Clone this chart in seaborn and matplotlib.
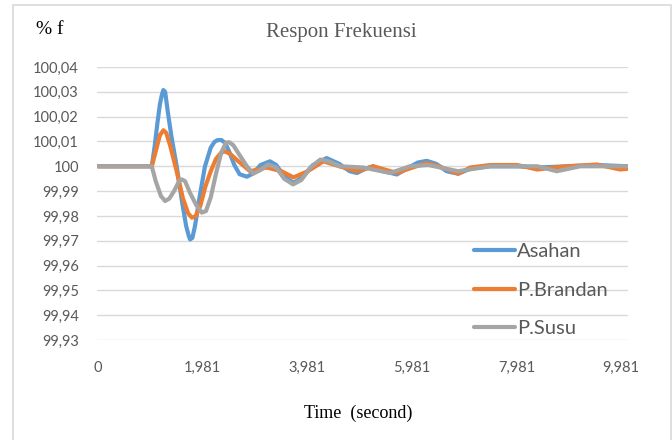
import matplotlib
matplotlib.use("Agg")
import matplotlib.pyplot as plt
import seaborn as sns
import pandas as pd
from matplotlib.patches import Rectangle

series_names = ["Asahan", "P.Brandan", "P.Susu"]
colors = ["#5B9BD5", "#ED7D31", "#A5A5A5"]

t_asahan = [0, 1.0, 1.025, 1.08, 1.13, 1.18, 1.22, 1.246, 1.28, 1.33, 1.40, 1.50, 1.60, 1.68,
            1.73, 1.756, 1.80, 1.85, 1.94, 2.04, 2.15, 2.22, 2.277, 2.35, 2.42, 2.50, 2.60,
            2.70, 2.84, 2.95, 3.10, 3.28, 3.40, 3.55, 3.73, 3.90, 4.10, 4.36, 4.60, 4.80,
            4.94, 5.10, 5.25, 5.45, 5.70, 5.95, 6.10, 6.27, 6.45, 6.65, 6.87, 7.10, 7.48,
            8.00, 8.38, 8.95, 9.52, 10.11]
v_asahan = [100, 100, 100.0, 100.008, 100.017, 100.025, 100.029, 100.0307, 100.030, 100.022,
            100.012, 100.0, 99.986, 99.976, 99.972, 99.9705, 99.9712, 99.976, 99.988, 100.0,
            100.0075, 100.0098, 100.0105, 100.0106, 100.0095, 100.006, 100.0005, 99.9968,
            99.9958, 99.997, 100.0005, 100.002, 100.0005, 99.996, 99.9933, 99.9955, 100.0005,
            100.0033, 100.001, 99.998, 99.9973, 99.999, 100.0, 99.998, 99.9967, 99.9998,
            100.0015, 100.0022, 100.001, 99.998, 99.997, 99.999, 100.0, 100.0, 99.9995,
            100.0, 100.0005, 100.0]

t_brandan = [0, 1.0, 1.025, 1.10, 1.18, 1.246, 1.30, 1.38, 1.50, 1.62, 1.72, 1.79, 1.86, 1.95,
             2.05, 2.15, 2.25, 2.35, 2.42, 2.52, 2.65, 2.90, 3.22, 3.50, 3.73, 4.00, 4.30,
             4.60, 4.94, 5.25, 5.70, 6.00, 6.27, 6.50, 6.87, 7.10, 7.48, 8.00, 8.38, 8.70,
             8.95, 9.52, 9.96, 10.11]
v_brandan = [100, 100, 100.0, 100.006, 100.0125, 100.0145, 100.0135, 100.008, 99.998, 99.987,
             99.981, 99.9793, 99.9798, 99.984, 99.992, 99.998, 100.003, 100.0055, 100.006,
             100.005, 100.0025, 99.998, 99.9995, 99.998, 99.9955, 99.998, 100.002, 100.0,
             99.998, 100.0, 99.9973, 99.9995, 100.0013, 100.0, 99.997, 99.9995, 100.0005,
             100.0005, 99.9987, 99.9995, 100.0, 100.0007, 99.9987, 99.999]

t_susu = [0, 1.0, 1.025, 1.10, 1.20, 1.28, 1.36, 1.45, 1.55, 1.60, 1.66, 1.75, 1.87, 1.98,
          2.06, 2.15, 2.25, 2.35, 2.44, 2.50, 2.58, 2.70, 2.84, 2.96, 3.10, 3.24, 3.40, 3.55,
          3.72, 3.88, 4.05, 4.24, 4.40, 4.62, 5.06, 5.57, 5.95, 6.30, 6.87, 7.48, 8.00, 8.38,
          8.75, 9.20, 9.96, 10.11]
v_susu = [100, 100, 100.0, 99.994, 99.988, 99.986, 99.987, 99.990, 99.9942, 99.9947, 99.994,
          99.9895, 99.9845, 99.9813, 99.982, 99.9875, 99.997, 100.0055, 100.0095, 100.0097,
          100.0085, 100.0045, 100.0, 99.997, 99.9985, 100.0007, 99.9995, 99.995, 99.9927,
          99.9945, 99.9995, 100.0027, 100.002, 100.0, 99.9995, 99.9973, 100.0, 100.0005,
          99.998, 100.0, 100.0, 100.0, 99.998, 100.0, 100.0, 100.0]

x_ticks = [0, 1.981, 3.981, 5.981, 7.981, 9.981]
x_tick_labels = ["0", "1,981", "3,981", "5,981", "7,981", "9,981"]
y_ticks = [99.93, 99.94, 99.95, 99.96, 99.97, 99.98, 99.99, 100.0, 100.01, 100.02, 100.03, 100.04]
y_tick_labels = ["99,93", "99,94", "99,95", "99,96", "99,97", "99,98", "99,99", "100",
                 "100,01", "100,02", "100,03", "100,04"]

frames = []
for name, t, v in [("Asahan", t_asahan, v_asahan), ("P.Brandan", t_brandan, v_brandan),
                   ("P.Susu", t_susu, v_susu)]:
    frames.append(pd.DataFrame({"t": t, "v": v, "series": name}))
df = pd.concat(frames, ignore_index=True)

sns.set_theme(style="white")
plt.rcParams["font.family"] = ["Lato", "DejaVu Sans"]

W, H = 672, 440
fig = plt.figure(figsize=(W / 100, H / 100), dpi=100)
ax = fig.add_axes([97 / W, 1 - 340 / H, (628 - 97) / W, (340 - 67) / H])

sns.lineplot(data=df, x="t", y="v", hue="series", hue_order=series_names,
             palette=colors, linewidth=3.0, sort=False, ax=ax, estimator=None)
for ln in ax.get_lines():
    ln.set_solid_joinstyle("round")
    ln.set_solid_capstyle("round")

ax.set_xlim(-0.02, 10.11)
ax.set_ylim(99.93, 100.04)
ax.set_yticks(y_ticks)
ax.set_yticklabels(y_tick_labels)
ax.set_xticks(x_ticks)
ax.set_xticklabels(x_tick_labels)
ax.grid(axis="y", color="#D9D9D9", linewidth=1.0)
ax.grid(axis="x", visible=False)
ax.set_axisbelow(True)
for s in ax.spines.values():
    s.set_visible(False)
ax.tick_params(axis="y", length=0, pad=13, labelsize=10.5, labelcolor="#595959")
ax.tick_params(axis="x", length=0, pad=15, labelsize=10.5, labelcolor="#595959")
ax.set_xlabel("")
ax.set_ylabel("")

leg = ax.legend(loc="upper left", bbox_to_anchor=(474 / W, 1 - 243 / H),
                bbox_transform=fig.transFigure, frameon=False, fontsize=14.5,
                handlelength=2.05, handletextpad=0.1, labelspacing=1.07,
                borderpad=0, borderaxespad=0)
for txt in leg.get_texts():
    txt.set_color("#595959")

fig.text(341 / W, 1 - 32 / H, "Respon Frekuensi", ha="center", va="center",
         family=["Liberation Serif"], fontsize=15, color="#595959")
fig.text(36 / W, 1 - 29 / H, "% f", ha="left", va="center",
         family=["Liberation Serif"], fontsize=14, color="black")
fig.text(358 / W, 1 - 413 / H, "Time  (second)", ha="center", va="center",
         family=["Liberation Serif"], fontsize=13, color="black")

fig.patches.append(Rectangle((12.5 / W, -0.01), (671 - 12.5) / W, 1.01 - 5 / H,
                             transform=fig.transFigure, fill=False,
                             edgecolor="#D9D9D9", linewidth=1.2))

fig.savefig("out.png", dpi=100)
